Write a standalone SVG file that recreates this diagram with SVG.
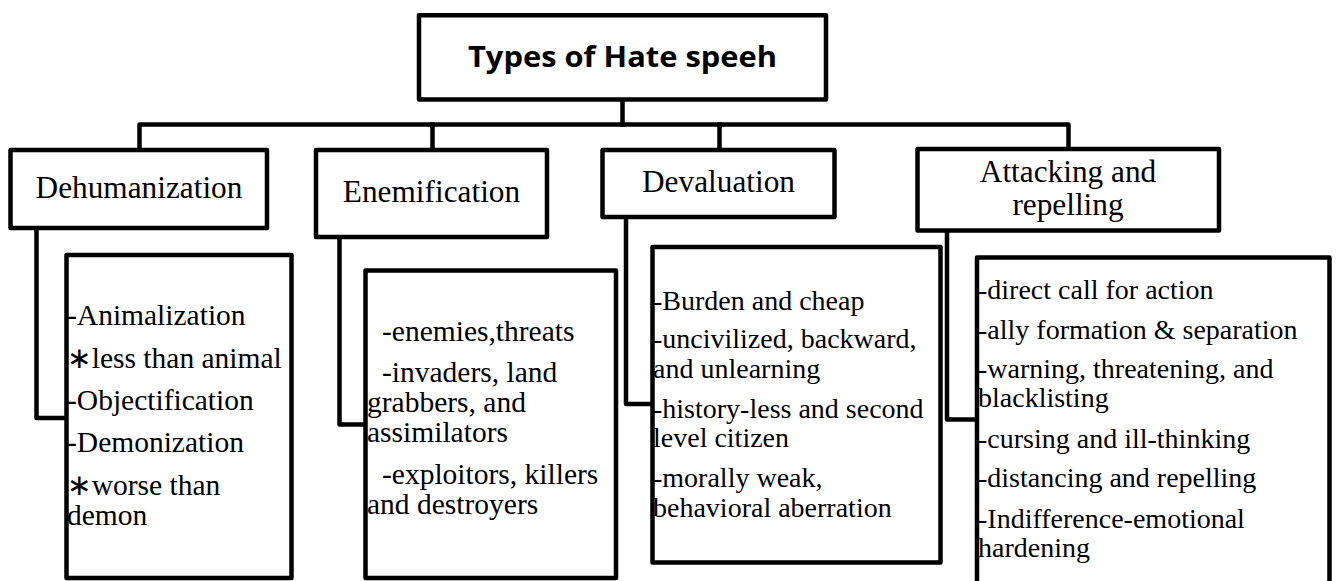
<svg xmlns="http://www.w3.org/2000/svg" width="1338" height="581" viewBox="0 0 1338 581">
  <style>
    .box { fill: #fff; stroke: #000; stroke-width: 4.5; stroke-linejoin: round; }
    .conn { fill: none; stroke: #000; stroke-width: 4.5; stroke-linejoin: round; stroke-linecap: square; }
    .title { font-family: "Open Sans", "Liberation Sans", sans-serif; font-weight: bold; font-size: 28px; fill: #000; }
    .head { font-family: "Liberation Serif", "Times New Roman", serif; font-size: 31.3px; fill: #000; text-anchor: middle; }
    .item { font-family: "Liberation Serif", "Times New Roman", serif; fill: #000; }
    .lg { font-size: 29.5px; }
    .sm { font-size: 28px; }
    .star { font-family: "DejaVu Sans", sans-serif; }
  </style>

  <!-- connectors: trunk, bus, drops and elbows -->
  <g id="connectors">
    <path class="conn" d="M622.5 99.5 V124.5"/>
    <path class="conn" d="M139.5 150 V124.5 H1068.5 V149"/>
    <path class="conn" d="M432.5 124.5 V150"/>
    <path class="conn" d="M719.5 124.5 V150"/>
    <path class="conn" d="M36.5 228 V418 H66.5"/>
    <path class="conn" d="M339.5 237 V424.5 H365.5"/>
    <path class="conn" d="M626 217 V404 H652.5"/>
    <path class="conn" d="M947 230.5 V419.5 H977"/>
  </g>

  <!-- root -->
  <g id="root">
    <rect class="box" x="419" y="15.3" width="407" height="84.2"/>
    <text class="title" x="468" y="67" textLength="309" lengthAdjust="spacingAndGlyphs">Types of Hate speeh</text>
  </g>

  <!-- category headings -->
  <g id="dehumanization">
    <rect class="box" x="10.5" y="150" width="256.5" height="78"/>
    <text class="head" x="139" y="198">Dehumanization</text>
  </g>
  <g id="enemification">
    <rect class="box" x="316" y="150" width="231" height="87"/>
    <text class="head" x="431.5" y="202">Enemification</text>
  </g>
  <g id="devaluation">
    <rect class="box" x="602.5" y="150" width="232" height="67"/>
    <text class="head" x="718.5" y="192">Devaluation</text>
  </g>
  <g id="attacking">
    <rect class="box" x="917.5" y="149" width="301.5" height="81.5"/>
    <text class="head" x="1068" y="182">Attacking and</text>
    <text class="head" x="1068" y="215">repelling</text>
  </g>

  <!-- detail lists -->
  <g id="dehumanization-list">
    <rect class="box" x="66.5" y="255" width="225" height="323"/>
    <text class="item lg" x="67" y="325">-Animalization</text>
    <text class="item lg" x="67" y="368"><tspan class="star">∗</tspan>less than animal</text>
    <text class="item lg" x="67" y="410">-Objectification</text>
    <text class="item lg" x="67" y="452">-Demonization</text>
    <text class="item lg" x="67" y="495"><tspan class="star">∗</tspan>worse than</text>
    <text class="item lg" x="67" y="525">demon</text>
  </g>
  <g id="enemification-list">
    <rect class="box" x="365.5" y="270.5" width="250.5" height="307.5"/>
    <text class="item lg" x="382" y="341">-enemies,threats</text>
    <text class="item lg" x="382" y="382">-invaders, land</text>
    <text class="item lg" x="367" y="412">grabbers, and</text>
    <text class="item lg" x="367" y="442">assimilators</text>
    <text class="item lg" x="382" y="484">-exploitors, killers</text>
    <text class="item lg" x="367" y="514">and destroyers</text>
  </g>
  <g id="devaluation-list">
    <rect class="box" x="652.5" y="247" width="288" height="315.5"/>
    <text class="item sm" x="653" y="310">-Burden and cheap</text>
    <text class="item sm" x="653" y="348">-uncivilized, backward,</text>
    <text class="item sm" x="653" y="378">and unlearning</text>
    <text class="item sm" x="653" y="418">-history-less and second</text>
    <text class="item sm" x="653" y="447">level citizen</text>
    <text class="item sm" x="653" y="487">-morally weak,</text>
    <text class="item sm" x="653" y="517">behavioral aberration</text>
  </g>
  <g id="attacking-list">
    <rect class="box" x="977" y="257.5" width="352.5" height="345"/>
    <text class="item sm" x="978" y="299">-direct call for action</text>
    <text class="item sm" x="978" y="339">-ally formation &amp; separation</text>
    <text class="item sm" x="978" y="378">-warning, threatening, and</text>
    <text class="item sm" x="978" y="407">blacklisting</text>
    <text class="item sm" x="978" y="448">-cursing and ill-thinking</text>
    <text class="item sm" x="978" y="487">-distancing and repelling</text>
    <text class="item sm" x="978" y="528">-Indifference-emotional</text>
    <text class="item sm" x="978" y="557">hardening</text>
  </g>
</svg>
